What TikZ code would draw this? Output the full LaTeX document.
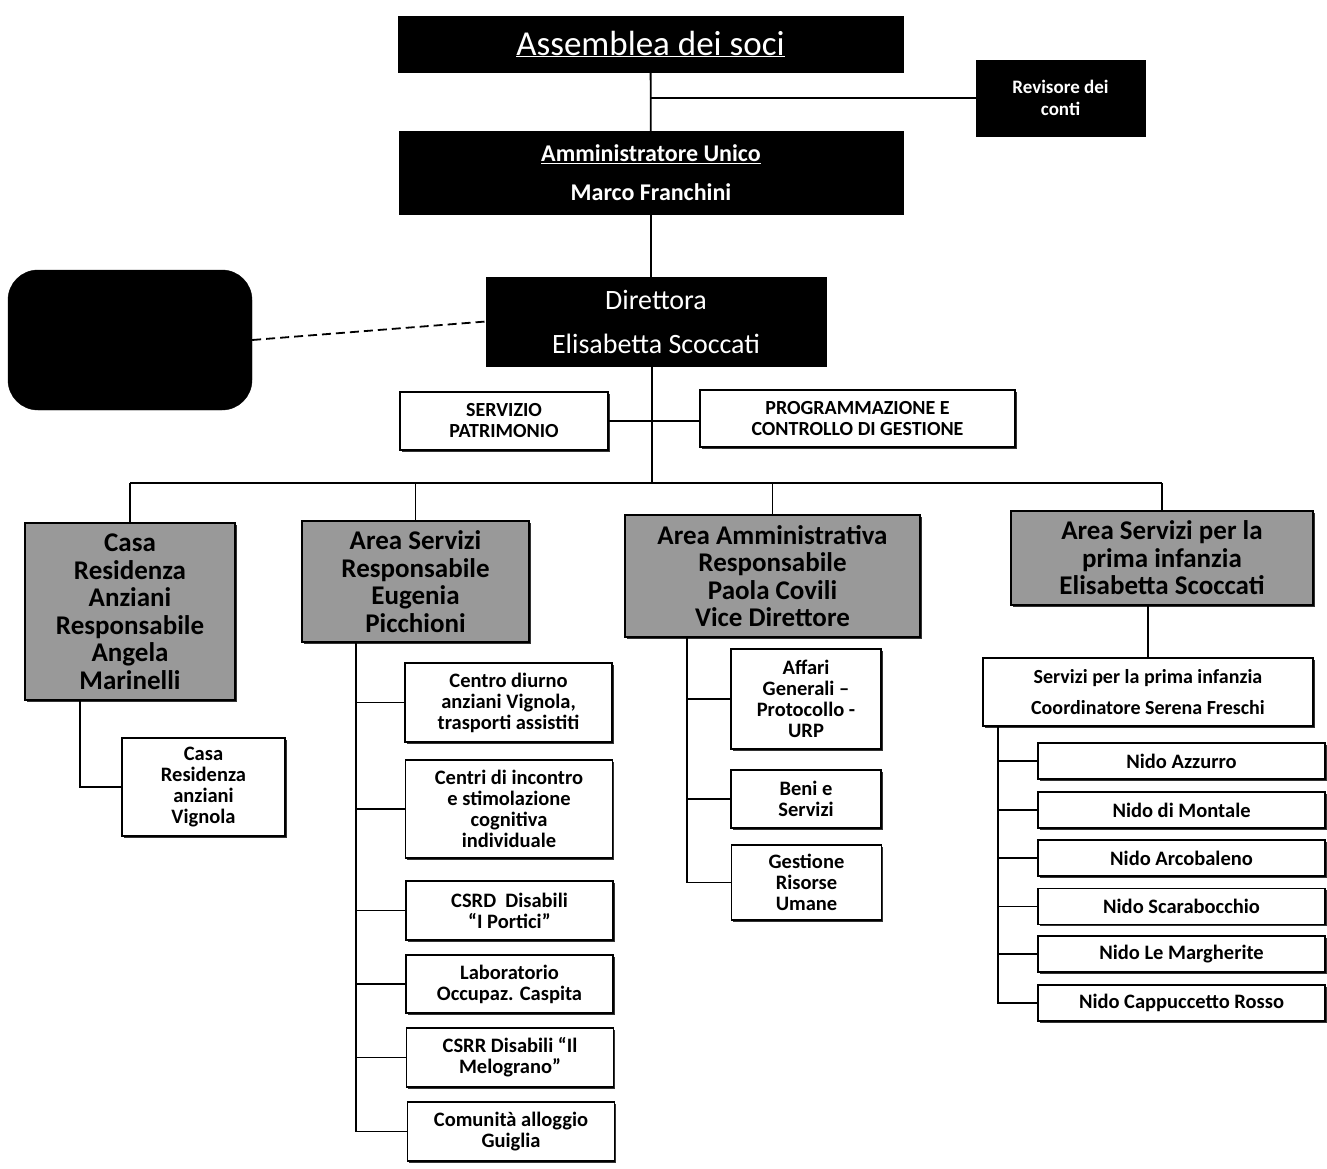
\documentclass[tikz,border=0pt]{standalone}
\usepackage{fontspec}
\setmainfont{Carlito}
\usetikzlibrary{positioning, shadows}

\definecolor{areagray}{gray}{0.6}
\newcommand{\fsz}[2]{\fontsize{#1}{#2}\selectfont}

\begin{document}
\begin{tikzpicture}[
  x=1pt, y=-1pt,
  topbox/.style={rectangle, fill=black, draw=black, text=white, align=center, inner sep=0pt},
  areabox/.style={rectangle, draw=black, line width=2pt, fill=areagray, text=black,
                  align=center, inner sep=0pt, font=\bfseries\fsz{27}{27.5},
                  drop shadow={shadow xshift=1.5pt, shadow yshift=-1.5pt, fill=black, opacity=0.8}},
  unitbox/.style={rectangle, draw=black, line width=1.5pt, fill=white, align=center,
                  inner sep=0pt, font=\bfseries\fsz{20.5}{21},
                  drop shadow={shadow xshift=1.5pt, shadow yshift=-1.5pt, fill=black, opacity=0.8}},
  nidobox/.style={unitbox, minimum width=287pt, minimum height=36pt},
  link/.style={line width=1.8pt},
]
\useasboundingbox (0,0) rectangle (1327,1169);

% ---- vertice ----
\node[topbox, minimum width=505pt, minimum height=56pt, font=\fsz{35}{38}] (assemblea) at (650.5,44)
  {\underline{Assemblea dei soci}};
\node[topbox, minimum width=169pt, minimum height=76pt, font=\bfseries\fsz{19}{22}] (revisore) at (1060.5,98)
  {Revisore dei\\conti};
\node[topbox, minimum width=504pt, minimum height=83pt, font=\bfseries\fsz{24}{39}] (ammunico) at (651,172.5)
  {\underline{Amministratore Unico}\\Marco Franchini};
\node[topbox, minimum width=244pt, minimum height=140pt, rounded corners=30pt] (staff) at (130,340) {};
\node[topbox, minimum width=340pt, minimum height=89pt, font=\fsz{28}{44}] (direttora) at (656,321.5)
  {Direttora\\Elisabetta Scoccati};

% ---- staff ----
\node[unitbox, minimum width=208pt, minimum height=58pt, font=\bfseries\fsz{20}{21}] (patrimonio) at (504,421)
  {SERVIZIO\\PATRIMONIO};
\node[unitbox, minimum width=315pt, minimum height=57pt, font=\bfseries\fsz{20}{21}] (programm) at (857.5,418.5)
  {PROGRAMMAZIONE E\\CONTROLLO DI GESTIONE};

% ---- aree ----
\node[areabox, minimum width=210pt, minimum height=177pt] (casa) at (130,611.5)
  {Casa\\Residenza\\Anziani\\Responsabile\\Angela\\Marinelli};
\node[areabox, minimum width=227pt, minimum height=121pt] (areaserv) at (415.5,581.5)
  {Area Servizi\\Responsabile\\Eugenia\\Picchioni};
\node[areabox, minimum width=295pt, minimum height=122pt] (areaamm) at (772.5,576)
  {Area Amministrativa\\Responsabile\\Paola Covili\\Vice Direttore};
\node[areabox, minimum width=302pt, minimum height=94pt] (areainf) at (1162,558)
  {Area Servizi per la\\prima infanzia\\Elisabetta Scoccati};

% ---- casa residenza ----
\node[unitbox, minimum width=163pt, minimum height=98pt] (casavig) at (203.5,787)
  {Casa\\Residenza\\anziani\\Vignola};

% ---- area servizi ----
\node[unitbox, minimum width=207pt, minimum height=79pt] (diurno) at (508.5,702.5)
  {Centro diurno\\anziani Vignola,\\trasporti assistiti};
\node[unitbox, minimum width=207pt, minimum height=98pt] (incontro) at (509,809)
  {Centri di incontro\\e stimolazione\\cognitiva\\individuale};
\node[unitbox, minimum width=207pt, minimum height=59pt] (csrd) at (509.5,910.5)
  {CSRD\ \ Disabili\\“I Portici”};
\node[unitbox, minimum width=207pt, minimum height=58pt] (caspita) at (509.5,984)
  {Laboratorio\\Occupaz. Caspita};
\node[unitbox, minimum width=207pt, minimum height=59pt] (csrr) at (510,1057.5)
  {CSRR Disabili “Il\\Melograno”};
\node[unitbox, minimum width=207pt, minimum height=59pt] (guiglia) at (511,1131.5)
  {Comunità alloggio\\Guiglia};

% ---- area amministrativa ----
\node[unitbox, minimum width=150pt, minimum height=100pt] (affari) at (806,699)
  {Affari\\Generali –\\Protocollo -\\URP};
\node[unitbox, minimum width=150pt, minimum height=58pt] (beni) at (806,799)
  {Beni e\\Servizi};
\node[unitbox, minimum width=150pt, minimum height=75pt] (risorse) at (806.5,882.5)
  {Gestione\\Risorse\\Umane};

% ---- prima infanzia ----
\node[unitbox, minimum width=330pt, minimum height=68pt, font=\bfseries\fsz{20}{31}] (serinf) at (1148,692)
  {Servizi per la prima infanzia\\Coordinatore Serena Freschi};
\node[nidobox] (azzurro)    at (1181.5,761)   {Nido Azzurro};
\node[nidobox] (montale)    at (1181.5,810)   {Nido di Montale};
\node[nidobox] (arcobaleno) at (1181.5,858)   {Nido Arcobaleno};
\node[nidobox] (scarab)     at (1181.5,906.5) {Nido Scarabocchio};
\node[nidobox] (margherite) at (1181.5,954)   {Nido Le Margherite};
\node[nidobox] (cappuccetto) at (1181.5,1003) {Nido Cappuccetto Rosso};

% ---- collegamenti ----
\coordinate (bus) at (652,483);
\draw[link] (assemblea) -- (ammunico);
\draw[link] (revisore.west) -- (revisore.west -| assemblea.south);
\draw[link] (ammunico.south) -- (ammunico.south |- direttora.north);
\draw[link, dashed, dash pattern=on 9pt off 5pt] (staff.east) -- (direttora.west);
\draw[link] (direttora.south -| bus) -- (bus);
\draw[link] (patrimonio.east) -- (patrimonio.east -| programm.west);
\draw[link] (casa.north |- bus) -- (areainf.north |- bus);
\foreach \a in {casa, areaserv, areaamm, areainf}
  \draw[link] (\a.north |- bus) -- (\a.north);

\draw[link] ([xshift=-50pt]casa.south) |- (casavig.west);
\foreach \u in {diurno, incontro, csrd, caspita, csrr, guiglia}
  \draw[link] ([xshift=55pt]areaserv.south west) |- (\u.west);
\foreach \u in {affari, beni, risorse}
  \draw[link] ([xshift=63pt]areaamm.south west) |- (\u.west);
\draw[link] (areainf.south -| serinf.north) -- (serinf.north);
\foreach \u in {azzurro, montale, arcobaleno, scarab, margherite, cappuccetto}
  \draw[link] ([xshift=16pt]serinf.south west) |- (\u.west);

\end{tikzpicture}
\end{document}
